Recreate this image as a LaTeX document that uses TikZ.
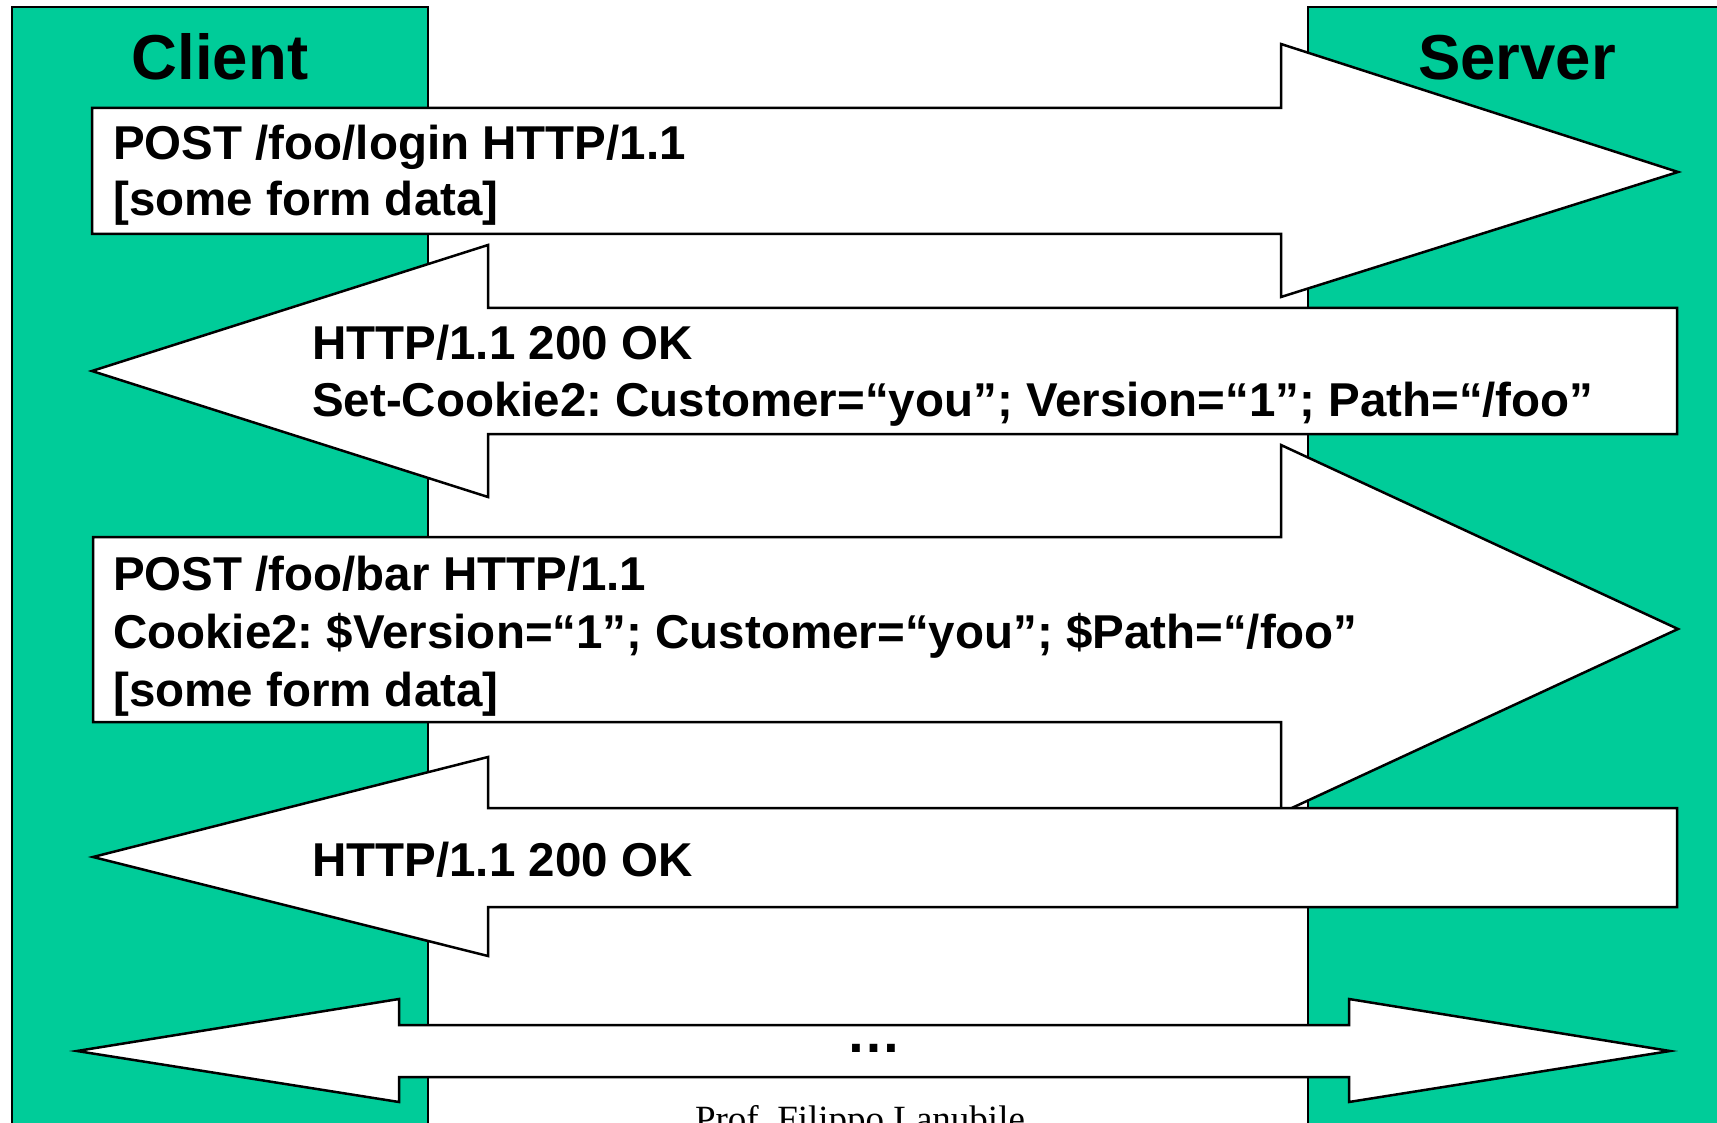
\documentclass[tikz,border=0pt]{standalone}
\usepackage{fontspec}
\setmainfont{Liberation Sans}
\newfontfamily\profserif{Liberation Serif}
\definecolor{panelgreen}{RGB}{0,204,153}
\frenchspacing
\begin{document}
\begin{tikzpicture}[x=1pt,y=-1pt,
  panel/.style={fill=panelgreen,draw=black,line width=2.5pt},
  bigarrow/.style={fill=white,draw=black,line width=2.5pt,line join=miter},
  title/.style={font=\fontsize{63.5}{70}\selectfont\bfseries,inner sep=0pt,anchor=base},
  msg/.style={font=\fontsize{47.5}{57}\selectfont\bfseries,inner sep=0pt,anchor=base west}]
\useasboundingbox (0,0) rectangle (1717,1123);
\clip (0,0) rectangle (1717,1123);
\fill[white] (0,0) rectangle (1717,1123);
% panels
\draw[panel] (12,7) rectangle (428,1160);
\draw[panel] (1308,7) rectangle (1760,1160);
\node[title] (client) at (220,80) {Client};
\node[title] (server) at (1517,80) {Server};
% arrow 1 (request)
\draw[bigarrow] (92,108) -- (1281,108) -- (1281,44) -- (1678,172) -- (1281,297) -- (1281,234) -- (92,234) -- cycle;
\node[msg] (req1a) at (113,160) {POST /foo/login HTTP/1.1};
\node[msg] (req1b) at (113,216) {[some form data]};
% arrow 2 (response)
\draw[bigarrow] (1677,308) -- (488,308) -- (488,245) -- (92,371) -- (488,497) -- (488,434) -- (1677,434) -- cycle;
\node[msg] (res1a) at (312,360) {HTTP/1.1 200 OK};
\node[msg] (res1b) at (312,416) {Set-Cookie2: Customer=“you”; Version=“1”; Path=“/foo”};
% arrow 3 (request)
\draw[bigarrow] (93,537) -- (1281,537) -- (1281,445) -- (1678,629) -- (1281,813) -- (1281,722) -- (93,722) -- cycle;
\node[msg] (req2a) at (113,590) {POST /foo/bar HTTP/1.1};
\node[msg] (req2b) at (113,648) {Cookie2: \$Version=“1”; Customer=“you”; \$Path=“/foo”};
\node[msg] (req2c) at (113,706) {[some form data]};
% arrow 4 (response)
\draw[bigarrow] (1677,808) -- (488,808) -- (488,757) -- (93,857) -- (488,956) -- (488,907) -- (1677,907) -- cycle;
\node[msg] (res2a) at (312,876) {HTTP/1.1 200 OK};
% arrow 5 (double)
\draw[bigarrow] (77,1051) -- (399,999) -- (399,1025) -- (1349,1025) -- (1349,999) -- (1670,1051) -- (1349,1102) -- (1349,1077) -- (399,1077) -- (399,1102) -- cycle;
\node[font=\fontsize{55}{60}\selectfont\bfseries,inner sep=0pt,anchor=base] (dots) at (874,1052) {…};
\node[font=\fontsize{37}{40}\selectfont\profserif,inner sep=0pt,anchor=base] (footer) at (860,1131) {Prof. Filippo Lanubile};
\end{tikzpicture}
\end{document}
